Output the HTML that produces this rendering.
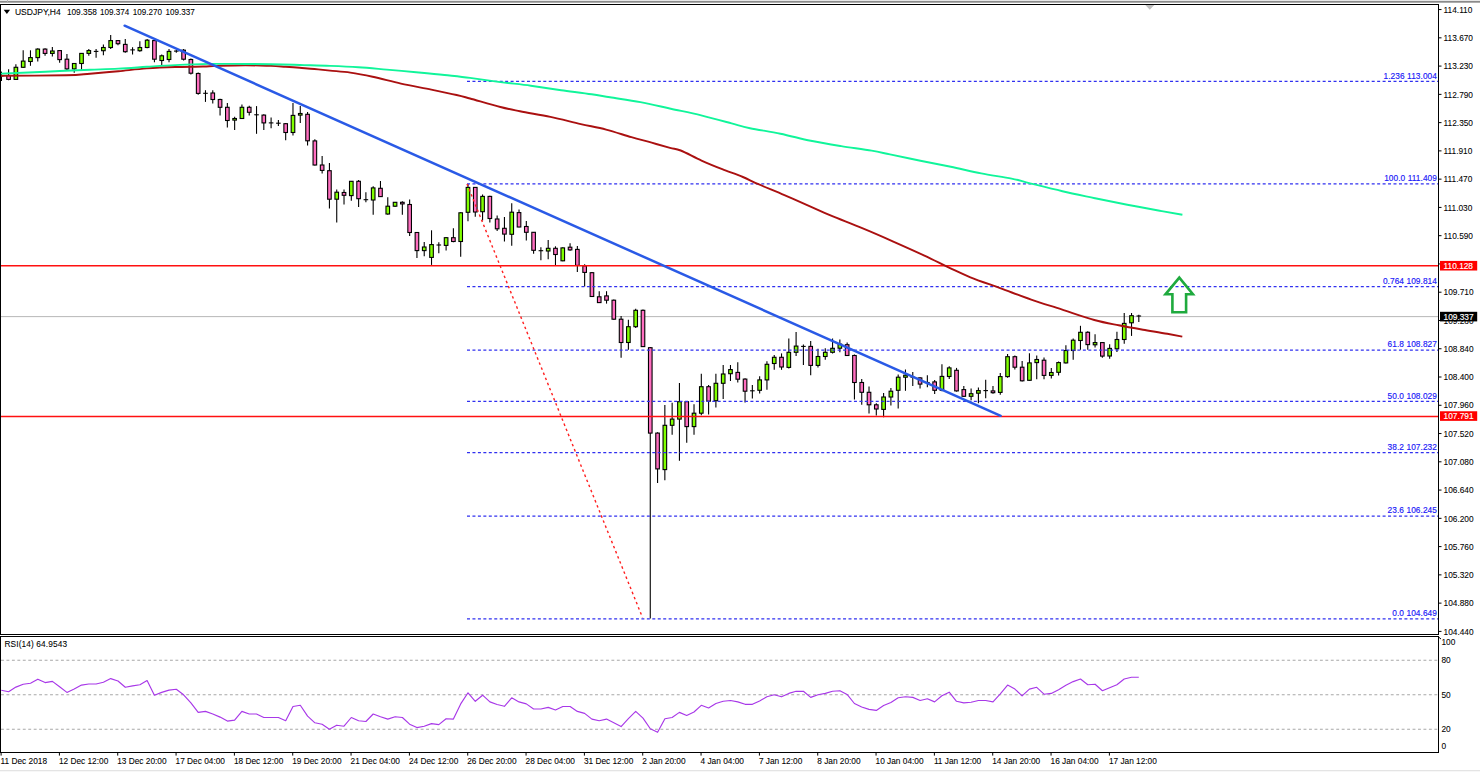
<!DOCTYPE html>
<html><head><meta charset="utf-8"><title>USDJPY H4</title>
<style>
html,body{margin:0;padding:0;background:#fff;width:1480px;height:772px;overflow:hidden}
svg{display:block}
text{font-family:"Liberation Sans", sans-serif;}
</style></head><body>
<svg width="1480" height="772" viewBox="0 0 1480 772">

<rect x="0" y="0" width="1480" height="1" fill="#e8e8e8"/>
<rect x="0" y="1" width="1480" height="1.7" fill="#8a8a8a"/>
<rect x="7" y="0" width="1" height="2" fill="#b0b0b0"/>
<defs><clipPath id="cm"><rect x="1" y="5" width="1437" height="629"/></clipPath><clipPath id="cr"><rect x="1" y="637" width="1437" height="115"/></clipPath></defs>
<g clip-path="url(#cm)">
<line x1="0" y1="316.61" x2="1438" y2="316.61" stroke="#b8b8b8" stroke-width="1"/>
<g>
<line x1="1.5" y1="71.6" x2="1.5" y2="81" stroke="#000" stroke-width="1"/>
<line x1="0" y1="76" x2="3.5" y2="76" stroke="#000" stroke-width="1"/>
<line x1="8.60" y1="69.3" x2="8.60" y2="80.2" stroke="#000" stroke-width="1.1"/>
<rect x="6.80" y="75.5" width="3.60" height="3.9" fill="#ff6ec0" stroke="#000" stroke-width="1.1"/>
<line x1="15.89" y1="64.2" x2="15.89" y2="79.8" stroke="#000" stroke-width="1.1"/>
<rect x="14.09" y="67.3" width="3.60" height="12.1" fill="#80ff00" stroke="#000" stroke-width="1.1"/>
<line x1="23.18" y1="50.3" x2="23.18" y2="68.1" stroke="#000" stroke-width="1.1"/>
<rect x="21.38" y="61.1" width="3.60" height="6.2" fill="#80ff00" stroke="#000" stroke-width="1.1"/>
<line x1="30.48" y1="50.3" x2="30.48" y2="65.8" stroke="#000" stroke-width="1.1"/>
<rect x="28.68" y="57.6" width="3.60" height="3.9" fill="#80ff00" stroke="#000" stroke-width="1.1"/>
<line x1="37.77" y1="48.3" x2="37.77" y2="61.5" stroke="#000" stroke-width="1.1"/>
<rect x="35.97" y="49.1" width="3.60" height="8.5" fill="#80ff00" stroke="#000" stroke-width="1.1"/>
<line x1="45.06" y1="48.3" x2="45.06" y2="55.7" stroke="#000" stroke-width="1.1"/>
<rect x="43.26" y="49.1" width="3.60" height="4.3" fill="#ff6ec0" stroke="#000" stroke-width="1.1"/>
<line x1="52.35" y1="47.1" x2="52.35" y2="56.5" stroke="#000" stroke-width="1.1"/>
<rect x="50.55" y="51.0" width="3.60" height="2.4" fill="#80ff00" stroke="#000" stroke-width="1.1"/>
<line x1="59.64" y1="50.3" x2="59.64" y2="62.7" stroke="#000" stroke-width="1.1"/>
<rect x="57.84" y="50.6" width="3.60" height="9.0" fill="#ff6ec0" stroke="#000" stroke-width="1.1"/>
<line x1="66.93" y1="54.1" x2="66.93" y2="70.8" stroke="#000" stroke-width="1.1"/>
<rect x="65.13" y="59.2" width="3.60" height="9.7" fill="#ff6ec0" stroke="#000" stroke-width="1.1"/>
<line x1="74.23" y1="63.1" x2="74.23" y2="72.8" stroke="#000" stroke-width="1.1"/>
<rect x="72.43" y="63.5" width="3.60" height="5.4" fill="#80ff00" stroke="#000" stroke-width="1.1"/>
<line x1="81.52" y1="53.4" x2="81.52" y2="70.5" stroke="#000" stroke-width="1.1"/>
<rect x="79.72" y="53.4" width="3.60" height="10.1" fill="#80ff00" stroke="#000" stroke-width="1.1"/>
<line x1="88.81" y1="49.1" x2="88.81" y2="55.7" stroke="#000" stroke-width="1.1"/>
<rect x="87.01" y="50.6" width="3.60" height="2.8" fill="#80ff00" stroke="#000" stroke-width="1.1"/>
<line x1="96.10" y1="49.1" x2="96.10" y2="57.7" stroke="#000" stroke-width="1.1"/>
<line x1="93.80" y1="51.4" x2="98.40" y2="51.4" stroke="#000" stroke-width="1.1"/>
<line x1="103.39" y1="44.4" x2="103.39" y2="55.3" stroke="#000" stroke-width="1.1"/>
<rect x="101.59" y="47.5" width="3.60" height="3.2" fill="#80ff00" stroke="#000" stroke-width="1.1"/>
<line x1="110.68" y1="35.1" x2="110.68" y2="49.1" stroke="#000" stroke-width="1.1"/>
<rect x="108.88" y="40.6" width="3.60" height="6.9" fill="#80ff00" stroke="#000" stroke-width="1.1"/>
<line x1="117.98" y1="40.1" x2="117.98" y2="45.2" stroke="#000" stroke-width="1.1"/>
<rect x="116.18" y="40.6" width="3.60" height="3.1" fill="#ff6ec0" stroke="#000" stroke-width="1.1"/>
<line x1="125.27" y1="39.0" x2="125.27" y2="52.7" stroke="#000" stroke-width="1.1"/>
<rect x="123.47" y="44.4" width="3.60" height="7.3" fill="#ff6ec0" stroke="#000" stroke-width="1.1"/>
<line x1="132.56" y1="47.2" x2="132.56" y2="54.5" stroke="#000" stroke-width="1.1"/>
<line x1="130.26" y1="49.9" x2="134.86" y2="49.9" stroke="#000" stroke-width="1.1"/>
<line x1="139.85" y1="41.3" x2="139.85" y2="51.7" stroke="#000" stroke-width="1.1"/>
<rect x="138.05" y="47.5" width="3.60" height="3.2" fill="#80ff00" stroke="#000" stroke-width="1.1"/>
<line x1="147.14" y1="39.0" x2="147.14" y2="48.3" stroke="#000" stroke-width="1.1"/>
<rect x="145.34" y="40.2" width="3.60" height="7.3" fill="#80ff00" stroke="#000" stroke-width="1.1"/>
<line x1="154.43" y1="39.8" x2="154.43" y2="62.3" stroke="#000" stroke-width="1.1"/>
<rect x="152.63" y="40.6" width="3.60" height="18.6" fill="#ff6ec0" stroke="#000" stroke-width="1.1"/>
<line x1="161.73" y1="54.5" x2="161.73" y2="65.7" stroke="#000" stroke-width="1.1"/>
<rect x="159.93" y="55.8" width="3.60" height="4.7" fill="#80ff00" stroke="#000" stroke-width="1.1"/>
<line x1="169.02" y1="49.1" x2="169.02" y2="62.3" stroke="#000" stroke-width="1.1"/>
<rect x="167.22" y="51.4" width="3.60" height="8.1" fill="#80ff00" stroke="#000" stroke-width="1.1"/>
<line x1="176.31" y1="49.9" x2="176.31" y2="52.7" stroke="#000" stroke-width="1.1"/>
<line x1="174.01" y1="51.1" x2="178.61" y2="51.1" stroke="#000" stroke-width="1.1"/>
<line x1="183.60" y1="49.1" x2="183.60" y2="60.5" stroke="#000" stroke-width="1.1"/>
<rect x="181.80" y="50.2" width="3.60" height="9.0" fill="#ff6ec0" stroke="#000" stroke-width="1.1"/>
<line x1="190.89" y1="58.4" x2="190.89" y2="74.5" stroke="#000" stroke-width="1.1"/>
<rect x="189.09" y="59.5" width="3.60" height="13.7" fill="#ff6ec0" stroke="#000" stroke-width="1.1"/>
<line x1="198.18" y1="72.4" x2="198.18" y2="94.7" stroke="#000" stroke-width="1.1"/>
<rect x="196.38" y="73.5" width="3.60" height="19.9" fill="#ff6ec0" stroke="#000" stroke-width="1.1"/>
<line x1="205.48" y1="90.2" x2="205.48" y2="101.9" stroke="#000" stroke-width="1.1"/>
<line x1="203.18" y1="93.3" x2="207.78" y2="93.3" stroke="#000" stroke-width="1.1"/>
<line x1="212.77" y1="90.2" x2="212.77" y2="103.4" stroke="#000" stroke-width="1.1"/>
<rect x="210.97" y="93.0" width="3.60" height="6.5" fill="#ff6ec0" stroke="#000" stroke-width="1.1"/>
<line x1="220.06" y1="98.8" x2="220.06" y2="115.6" stroke="#000" stroke-width="1.1"/>
<rect x="218.26" y="99.5" width="3.60" height="7.8" fill="#ff6ec0" stroke="#000" stroke-width="1.1"/>
<line x1="227.35" y1="103.0" x2="227.35" y2="127.5" stroke="#000" stroke-width="1.1"/>
<rect x="225.55" y="107.3" width="3.60" height="13.2" fill="#ff6ec0" stroke="#000" stroke-width="1.1"/>
<line x1="234.64" y1="116.7" x2="234.64" y2="129.9" stroke="#000" stroke-width="1.1"/>
<rect x="232.84" y="118.5" width="3.60" height="1.6" fill="#80ff00" stroke="#000" stroke-width="1.1"/>
<line x1="241.93" y1="104.5" x2="241.93" y2="119.0" stroke="#000" stroke-width="1.1"/>
<rect x="240.13" y="107.3" width="3.60" height="11.2" fill="#80ff00" stroke="#000" stroke-width="1.1"/>
<line x1="249.23" y1="105.8" x2="249.23" y2="115.4" stroke="#000" stroke-width="1.1"/>
<rect x="247.43" y="107.3" width="3.60" height="5.0" fill="#ff6ec0" stroke="#000" stroke-width="1.1"/>
<line x1="256.52" y1="106.1" x2="256.52" y2="133.8" stroke="#000" stroke-width="1.1"/>
<line x1="254.22" y1="114.8" x2="258.82" y2="114.8" stroke="#000" stroke-width="1.1"/>
<line x1="263.81" y1="114.3" x2="263.81" y2="129.9" stroke="#000" stroke-width="1.1"/>
<rect x="262.01" y="115.1" width="3.60" height="7.8" fill="#ff6ec0" stroke="#000" stroke-width="1.1"/>
<line x1="271.10" y1="117.4" x2="271.10" y2="128.3" stroke="#000" stroke-width="1.1"/>
<line x1="268.80" y1="122.9" x2="273.40" y2="122.9" stroke="#000" stroke-width="1.1"/>
<line x1="278.39" y1="120.1" x2="278.39" y2="126.0" stroke="#000" stroke-width="1.1"/>
<line x1="276.09" y1="123.2" x2="280.69" y2="123.2" stroke="#000" stroke-width="1.1"/>
<line x1="285.68" y1="122.9" x2="285.68" y2="140.3" stroke="#000" stroke-width="1.1"/>
<rect x="283.88" y="123.7" width="3.60" height="8.8" fill="#ff6ec0" stroke="#000" stroke-width="1.1"/>
<line x1="292.98" y1="103.0" x2="292.98" y2="135.6" stroke="#000" stroke-width="1.1"/>
<rect x="291.18" y="115.4" width="3.60" height="17.1" fill="#80ff00" stroke="#000" stroke-width="1.1"/>
<line x1="300.27" y1="106.1" x2="300.27" y2="122.9" stroke="#000" stroke-width="1.1"/>
<rect x="298.47" y="113.5" width="3.60" height="1.6" fill="#80ff00" stroke="#000" stroke-width="1.1"/>
<line x1="307.56" y1="112.0" x2="307.56" y2="145.4" stroke="#000" stroke-width="1.1"/>
<rect x="305.76" y="114.3" width="3.60" height="26.5" fill="#ff6ec0" stroke="#000" stroke-width="1.1"/>
<line x1="314.85" y1="139.3" x2="314.85" y2="165.5" stroke="#000" stroke-width="1.1"/>
<rect x="313.05" y="140.9" width="3.60" height="24.1" fill="#ff6ec0" stroke="#000" stroke-width="1.1"/>
<line x1="322.14" y1="156.1" x2="322.14" y2="173.5" stroke="#000" stroke-width="1.1"/>
<rect x="320.34" y="165.0" width="3.60" height="5.4" fill="#ff6ec0" stroke="#000" stroke-width="1.1"/>
<line x1="329.43" y1="163.0" x2="329.43" y2="208.5" stroke="#000" stroke-width="1.1"/>
<rect x="327.63" y="170.7" width="3.60" height="28.5" fill="#ff6ec0" stroke="#000" stroke-width="1.1"/>
<line x1="336.73" y1="189.4" x2="336.73" y2="222.5" stroke="#000" stroke-width="1.1"/>
<rect x="334.93" y="192.2" width="3.60" height="7.0" fill="#80ff00" stroke="#000" stroke-width="1.1"/>
<line x1="344.02" y1="189.4" x2="344.02" y2="204.6" stroke="#000" stroke-width="1.1"/>
<rect x="342.22" y="192.5" width="3.60" height="2.8" fill="#ff6ec0" stroke="#000" stroke-width="1.1"/>
<line x1="351.31" y1="181.0" x2="351.31" y2="200.8" stroke="#000" stroke-width="1.1"/>
<rect x="349.51" y="181.3" width="3.60" height="14.3" fill="#80ff00" stroke="#000" stroke-width="1.1"/>
<line x1="358.60" y1="180.1" x2="358.60" y2="207.0" stroke="#000" stroke-width="1.1"/>
<rect x="356.80" y="181.3" width="3.60" height="17.4" fill="#ff6ec0" stroke="#000" stroke-width="1.1"/>
<line x1="365.89" y1="192.2" x2="365.89" y2="202.3" stroke="#000" stroke-width="1.1"/>
<line x1="363.59" y1="199.7" x2="368.19" y2="199.7" stroke="#000" stroke-width="1.1"/>
<line x1="373.19" y1="186.3" x2="373.19" y2="214.8" stroke="#000" stroke-width="1.1"/>
<rect x="371.38" y="187.9" width="3.60" height="12.1" fill="#80ff00" stroke="#000" stroke-width="1.1"/>
<line x1="380.48" y1="181.0" x2="380.48" y2="196.9" stroke="#000" stroke-width="1.1"/>
<rect x="378.68" y="188.3" width="3.60" height="8.3" fill="#ff6ec0" stroke="#000" stroke-width="1.1"/>
<line x1="387.77" y1="197.2" x2="387.77" y2="214.8" stroke="#000" stroke-width="1.1"/>
<rect x="385.97" y="206.2" width="3.60" height="7.8" fill="#80ff00" stroke="#000" stroke-width="1.1"/>
<line x1="395.06" y1="201.9" x2="395.06" y2="207.0" stroke="#000" stroke-width="1.1"/>
<rect x="393.26" y="202.3" width="3.60" height="3.9" fill="#80ff00" stroke="#000" stroke-width="1.1"/>
<line x1="402.35" y1="201.2" x2="402.35" y2="214.8" stroke="#000" stroke-width="1.1"/>
<rect x="400.55" y="202.3" width="3.60" height="1.6" fill="#ff6ec0" stroke="#000" stroke-width="1.1"/>
<line x1="409.64" y1="199.5" x2="409.64" y2="236.1" stroke="#000" stroke-width="1.1"/>
<rect x="407.84" y="204.5" width="3.60" height="28.0" fill="#ff6ec0" stroke="#000" stroke-width="1.1"/>
<line x1="416.94" y1="232.2" x2="416.94" y2="257.9" stroke="#000" stroke-width="1.1"/>
<rect x="415.14" y="232.5" width="3.60" height="18.1" fill="#ff6ec0" stroke="#000" stroke-width="1.1"/>
<line x1="424.23" y1="241.9" x2="424.23" y2="256.3" stroke="#000" stroke-width="1.1"/>
<rect x="422.43" y="247.0" width="3.60" height="3.6" fill="#80ff00" stroke="#000" stroke-width="1.1"/>
<line x1="431.52" y1="230.3" x2="431.52" y2="264.9" stroke="#000" stroke-width="1.1"/>
<rect x="429.72" y="244.6" width="3.60" height="12.8" fill="#80ff00" stroke="#000" stroke-width="1.1"/>
<line x1="438.81" y1="242.3" x2="438.81" y2="253.2" stroke="#000" stroke-width="1.1"/>
<line x1="436.51" y1="245.0" x2="441.11" y2="245.0" stroke="#000" stroke-width="1.1"/>
<line x1="446.10" y1="236.9" x2="446.10" y2="250.6" stroke="#000" stroke-width="1.1"/>
<rect x="444.30" y="237.7" width="3.60" height="7.7" fill="#80ff00" stroke="#000" stroke-width="1.1"/>
<line x1="453.39" y1="228.3" x2="453.39" y2="242.3" stroke="#000" stroke-width="1.1"/>
<rect x="451.59" y="237.7" width="3.60" height="3.8" fill="#ff6ec0" stroke="#000" stroke-width="1.1"/>
<line x1="460.69" y1="212.3" x2="460.69" y2="256.8" stroke="#000" stroke-width="1.1"/>
<rect x="458.89" y="212.8" width="3.60" height="28.7" fill="#80ff00" stroke="#000" stroke-width="1.1"/>
<line x1="467.98" y1="184.0" x2="467.98" y2="221.3" stroke="#000" stroke-width="1.1"/>
<rect x="466.18" y="187.4" width="3.60" height="24.9" fill="#80ff00" stroke="#000" stroke-width="1.1"/>
<line x1="475.27" y1="187.1" x2="475.27" y2="216.7" stroke="#000" stroke-width="1.1"/>
<rect x="473.47" y="187.4" width="3.60" height="24.6" fill="#ff6ec0" stroke="#000" stroke-width="1.1"/>
<line x1="482.56" y1="194.6" x2="482.56" y2="220.5" stroke="#000" stroke-width="1.1"/>
<rect x="480.76" y="196.4" width="3.60" height="15.3" fill="#80ff00" stroke="#000" stroke-width="1.1"/>
<line x1="489.85" y1="195.7" x2="489.85" y2="222.6" stroke="#000" stroke-width="1.1"/>
<rect x="488.05" y="196.4" width="3.60" height="22.1" fill="#ff6ec0" stroke="#000" stroke-width="1.1"/>
<line x1="497.14" y1="215.4" x2="497.14" y2="231.0" stroke="#000" stroke-width="1.1"/>
<rect x="495.34" y="219.0" width="3.60" height="9.8" fill="#ff6ec0" stroke="#000" stroke-width="1.1"/>
<line x1="504.44" y1="217.0" x2="504.44" y2="241.5" stroke="#000" stroke-width="1.1"/>
<rect x="502.64" y="228.3" width="3.60" height="5.8" fill="#ff6ec0" stroke="#000" stroke-width="1.1"/>
<line x1="511.73" y1="203.2" x2="511.73" y2="245.7" stroke="#000" stroke-width="1.1"/>
<rect x="509.93" y="212.2" width="3.60" height="22.1" fill="#80ff00" stroke="#000" stroke-width="1.1"/>
<line x1="519.02" y1="209.4" x2="519.02" y2="227.3" stroke="#000" stroke-width="1.1"/>
<rect x="517.22" y="212.6" width="3.60" height="14.4" fill="#ff6ec0" stroke="#000" stroke-width="1.1"/>
<line x1="526.31" y1="221.1" x2="526.31" y2="240.5" stroke="#000" stroke-width="1.1"/>
<rect x="524.51" y="226.5" width="3.60" height="5.8" fill="#ff6ec0" stroke="#000" stroke-width="1.1"/>
<line x1="533.60" y1="232.0" x2="533.60" y2="253.8" stroke="#000" stroke-width="1.1"/>
<rect x="531.80" y="232.3" width="3.60" height="18.0" fill="#ff6ec0" stroke="#000" stroke-width="1.1"/>
<line x1="540.89" y1="247.2" x2="540.89" y2="260.3" stroke="#000" stroke-width="1.1"/>
<line x1="538.59" y1="250.7" x2="543.19" y2="250.7" stroke="#000" stroke-width="1.1"/>
<line x1="548.19" y1="240.1" x2="548.19" y2="259.2" stroke="#000" stroke-width="1.1"/>
<rect x="546.39" y="248.3" width="3.60" height="2.7" fill="#80ff00" stroke="#000" stroke-width="1.1"/>
<line x1="555.48" y1="246.3" x2="555.48" y2="265.4" stroke="#000" stroke-width="1.1"/>
<rect x="553.68" y="248.3" width="3.60" height="6.2" fill="#ff6ec0" stroke="#000" stroke-width="1.1"/>
<line x1="562.77" y1="247.2" x2="562.77" y2="261.2" stroke="#000" stroke-width="1.1"/>
<rect x="560.97" y="247.9" width="3.60" height="12.9" fill="#80ff00" stroke="#000" stroke-width="1.1"/>
<line x1="570.06" y1="243.2" x2="570.06" y2="250.7" stroke="#000" stroke-width="1.1"/>
<rect x="568.26" y="247.2" width="3.60" height="2.7" fill="#ff6ec0" stroke="#000" stroke-width="1.1"/>
<line x1="577.35" y1="246.0" x2="577.35" y2="272.1" stroke="#000" stroke-width="1.1"/>
<rect x="575.55" y="249.4" width="3.60" height="16.0" fill="#ff6ec0" stroke="#000" stroke-width="1.1"/>
<line x1="584.64" y1="264.3" x2="584.64" y2="286.4" stroke="#000" stroke-width="1.1"/>
<rect x="582.84" y="265.9" width="3.60" height="6.5" fill="#ff6ec0" stroke="#000" stroke-width="1.1"/>
<line x1="591.94" y1="272.1" x2="591.94" y2="297.0" stroke="#000" stroke-width="1.1"/>
<rect x="590.14" y="272.7" width="3.60" height="23.8" fill="#ff6ec0" stroke="#000" stroke-width="1.1"/>
<line x1="599.23" y1="291.2" x2="599.23" y2="303.0" stroke="#000" stroke-width="1.1"/>
<rect x="597.43" y="296.8" width="3.60" height="5.8" fill="#ff6ec0" stroke="#000" stroke-width="1.1"/>
<line x1="606.52" y1="291.2" x2="606.52" y2="303.6" stroke="#000" stroke-width="1.1"/>
<rect x="604.72" y="295.9" width="3.60" height="4.3" fill="#ff6ec0" stroke="#000" stroke-width="1.1"/>
<line x1="613.81" y1="299.4" x2="613.81" y2="319.7" stroke="#000" stroke-width="1.1"/>
<rect x="612.01" y="300.2" width="3.60" height="19.0" fill="#ff6ec0" stroke="#000" stroke-width="1.1"/>
<line x1="621.10" y1="316.1" x2="621.10" y2="357.8" stroke="#000" stroke-width="1.1"/>
<rect x="619.30" y="319.2" width="3.60" height="23.3" fill="#ff6ec0" stroke="#000" stroke-width="1.1"/>
<line x1="628.39" y1="319.7" x2="628.39" y2="349.7" stroke="#000" stroke-width="1.1"/>
<rect x="626.59" y="326.7" width="3.60" height="15.8" fill="#80ff00" stroke="#000" stroke-width="1.1"/>
<line x1="635.69" y1="308.8" x2="635.69" y2="327.9" stroke="#000" stroke-width="1.1"/>
<rect x="633.89" y="310.3" width="3.60" height="16.4" fill="#80ff00" stroke="#000" stroke-width="1.1"/>
<line x1="642.98" y1="309.5" x2="642.98" y2="346.9" stroke="#000" stroke-width="1.1"/>
<rect x="641.18" y="310.3" width="3.60" height="36.3" fill="#ff6ec0" stroke="#000" stroke-width="1.1"/>
<line x1="650.27" y1="346.9" x2="650.27" y2="618.5" stroke="#000" stroke-width="1.1"/>
<rect x="648.47" y="347.7" width="3.60" height="85.4" fill="#ff6ec0" stroke="#000" stroke-width="1.1"/>
<line x1="657.56" y1="432.3" x2="657.56" y2="483.1" stroke="#000" stroke-width="1.1"/>
<rect x="655.76" y="433.1" width="3.60" height="35.8" fill="#ff6ec0" stroke="#000" stroke-width="1.1"/>
<line x1="664.85" y1="405.1" x2="664.85" y2="480.3" stroke="#000" stroke-width="1.1"/>
<rect x="663.05" y="425.3" width="3.60" height="44.3" fill="#80ff00" stroke="#000" stroke-width="1.1"/>
<line x1="672.14" y1="402.8" x2="672.14" y2="434.7" stroke="#000" stroke-width="1.1"/>
<rect x="670.34" y="419.1" width="3.60" height="6.2" fill="#80ff00" stroke="#000" stroke-width="1.1"/>
<line x1="679.44" y1="383.0" x2="679.44" y2="460.8" stroke="#000" stroke-width="1.1"/>
<rect x="677.64" y="401.7" width="3.60" height="17.4" fill="#80ff00" stroke="#000" stroke-width="1.1"/>
<line x1="686.73" y1="401.2" x2="686.73" y2="442.7" stroke="#000" stroke-width="1.1"/>
<rect x="684.93" y="401.7" width="3.60" height="24.9" fill="#ff6ec0" stroke="#000" stroke-width="1.1"/>
<line x1="694.02" y1="404.3" x2="694.02" y2="434.7" stroke="#000" stroke-width="1.1"/>
<rect x="692.22" y="413.2" width="3.60" height="13.4" fill="#80ff00" stroke="#000" stroke-width="1.1"/>
<line x1="701.31" y1="373.7" x2="701.31" y2="415.2" stroke="#000" stroke-width="1.1"/>
<rect x="699.51" y="386.7" width="3.60" height="26.5" fill="#80ff00" stroke="#000" stroke-width="1.1"/>
<line x1="708.60" y1="384.9" x2="708.60" y2="414.4" stroke="#000" stroke-width="1.1"/>
<rect x="706.80" y="386.7" width="3.60" height="14.5" fill="#ff6ec0" stroke="#000" stroke-width="1.1"/>
<line x1="715.89" y1="373.7" x2="715.89" y2="407.4" stroke="#000" stroke-width="1.1"/>
<rect x="714.09" y="383.3" width="3.60" height="17.4" fill="#80ff00" stroke="#000" stroke-width="1.1"/>
<line x1="723.19" y1="365.0" x2="723.19" y2="398.9" stroke="#000" stroke-width="1.1"/>
<rect x="721.39" y="374.0" width="3.60" height="9.3" fill="#80ff00" stroke="#000" stroke-width="1.1"/>
<line x1="730.48" y1="365.0" x2="730.48" y2="381.0" stroke="#000" stroke-width="1.1"/>
<rect x="728.68" y="369.6" width="3.60" height="4.1" fill="#80ff00" stroke="#000" stroke-width="1.1"/>
<line x1="737.77" y1="362.3" x2="737.77" y2="382.5" stroke="#000" stroke-width="1.1"/>
<rect x="735.97" y="372.4" width="3.60" height="6.8" fill="#ff6ec0" stroke="#000" stroke-width="1.1"/>
<line x1="745.06" y1="378.3" x2="745.06" y2="402.4" stroke="#000" stroke-width="1.1"/>
<rect x="743.26" y="379.1" width="3.60" height="12.1" fill="#ff6ec0" stroke="#000" stroke-width="1.1"/>
<line x1="752.35" y1="385.0" x2="752.35" y2="398.5" stroke="#000" stroke-width="1.1"/>
<line x1="750.05" y1="390.8" x2="754.65" y2="390.8" stroke="#000" stroke-width="1.1"/>
<line x1="759.65" y1="376.3" x2="759.65" y2="393.4" stroke="#000" stroke-width="1.1"/>
<rect x="757.85" y="379.9" width="3.60" height="10.4" fill="#80ff00" stroke="#000" stroke-width="1.1"/>
<line x1="766.94" y1="361.2" x2="766.94" y2="389.7" stroke="#000" stroke-width="1.1"/>
<rect x="765.14" y="364.3" width="3.60" height="15.6" fill="#80ff00" stroke="#000" stroke-width="1.1"/>
<line x1="774.23" y1="355.0" x2="774.23" y2="369.8" stroke="#000" stroke-width="1.1"/>
<rect x="772.43" y="357.3" width="3.60" height="6.2" fill="#80ff00" stroke="#000" stroke-width="1.1"/>
<line x1="781.52" y1="353.4" x2="781.52" y2="369.8" stroke="#000" stroke-width="1.1"/>
<rect x="779.72" y="357.3" width="3.60" height="9.7" fill="#ff6ec0" stroke="#000" stroke-width="1.1"/>
<line x1="788.81" y1="338.4" x2="788.81" y2="368.5" stroke="#000" stroke-width="1.1"/>
<rect x="787.01" y="352.3" width="3.60" height="15.1" fill="#80ff00" stroke="#000" stroke-width="1.1"/>
<line x1="796.10" y1="332.1" x2="796.10" y2="356.1" stroke="#000" stroke-width="1.1"/>
<rect x="794.30" y="346.1" width="3.60" height="6.2" fill="#80ff00" stroke="#000" stroke-width="1.1"/>
<line x1="803.40" y1="344.6" x2="803.40" y2="365.1" stroke="#000" stroke-width="1.1"/>
<line x1="801.10" y1="346.4" x2="805.70" y2="346.4" stroke="#000" stroke-width="1.1"/>
<line x1="810.69" y1="341.0" x2="810.69" y2="375.2" stroke="#000" stroke-width="1.1"/>
<rect x="808.89" y="346.4" width="3.60" height="19.0" fill="#ff6ec0" stroke="#000" stroke-width="1.1"/>
<line x1="817.98" y1="348.8" x2="817.98" y2="367.4" stroke="#000" stroke-width="1.1"/>
<rect x="816.18" y="356.5" width="3.60" height="8.9" fill="#80ff00" stroke="#000" stroke-width="1.1"/>
<line x1="825.27" y1="348.3" x2="825.27" y2="359.7" stroke="#000" stroke-width="1.1"/>
<rect x="823.47" y="352.3" width="3.60" height="4.2" fill="#80ff00" stroke="#000" stroke-width="1.1"/>
<line x1="832.56" y1="338.4" x2="832.56" y2="353.4" stroke="#000" stroke-width="1.1"/>
<rect x="830.76" y="348.3" width="3.60" height="4.0" fill="#80ff00" stroke="#000" stroke-width="1.1"/>
<line x1="839.85" y1="339.4" x2="839.85" y2="352.3" stroke="#000" stroke-width="1.1"/>
<rect x="838.05" y="344.1" width="3.60" height="4.1" fill="#80ff00" stroke="#000" stroke-width="1.1"/>
<line x1="847.15" y1="342.6" x2="847.15" y2="356.1" stroke="#000" stroke-width="1.1"/>
<rect x="845.35" y="344.7" width="3.60" height="10.8" fill="#ff6ec0" stroke="#000" stroke-width="1.1"/>
<line x1="854.44" y1="354.5" x2="854.44" y2="399.6" stroke="#000" stroke-width="1.1"/>
<rect x="852.64" y="355.5" width="3.60" height="27.0" fill="#ff6ec0" stroke="#000" stroke-width="1.1"/>
<line x1="861.73" y1="379.1" x2="861.73" y2="404.8" stroke="#000" stroke-width="1.1"/>
<rect x="859.93" y="382.5" width="3.60" height="9.8" fill="#ff6ec0" stroke="#000" stroke-width="1.1"/>
<line x1="869.02" y1="386.6" x2="869.02" y2="413.6" stroke="#000" stroke-width="1.1"/>
<rect x="867.22" y="392.3" width="3.60" height="12.5" fill="#ff6ec0" stroke="#000" stroke-width="1.1"/>
<line x1="876.31" y1="403.2" x2="876.31" y2="415.6" stroke="#000" stroke-width="1.1"/>
<rect x="874.51" y="404.8" width="3.60" height="4.2" fill="#ff6ec0" stroke="#000" stroke-width="1.1"/>
<line x1="883.60" y1="393.1" x2="883.60" y2="417.2" stroke="#000" stroke-width="1.1"/>
<rect x="881.80" y="397.0" width="3.60" height="12.4" fill="#80ff00" stroke="#000" stroke-width="1.1"/>
<line x1="890.90" y1="388.1" x2="890.90" y2="405.5" stroke="#000" stroke-width="1.1"/>
<rect x="889.10" y="391.2" width="3.60" height="5.8" fill="#80ff00" stroke="#000" stroke-width="1.1"/>
<line x1="898.19" y1="374.4" x2="898.19" y2="408.6" stroke="#000" stroke-width="1.1"/>
<rect x="896.39" y="377.2" width="3.60" height="13.1" fill="#80ff00" stroke="#000" stroke-width="1.1"/>
<line x1="905.48" y1="369.5" x2="905.48" y2="390.8" stroke="#000" stroke-width="1.1"/>
<rect x="903.68" y="375.2" width="3.60" height="2.0" fill="#80ff00" stroke="#000" stroke-width="1.1"/>
<line x1="912.77" y1="372.1" x2="912.77" y2="386.1" stroke="#000" stroke-width="1.1"/>
<line x1="910.47" y1="377.2" x2="915.07" y2="377.2" stroke="#000" stroke-width="1.1"/>
<line x1="920.06" y1="377.2" x2="920.06" y2="388.4" stroke="#000" stroke-width="1.1"/>
<rect x="918.26" y="377.9" width="3.60" height="6.2" fill="#ff6ec0" stroke="#000" stroke-width="1.1"/>
<line x1="927.35" y1="375.2" x2="927.35" y2="387.2" stroke="#000" stroke-width="1.1"/>
<line x1="925.05" y1="382.5" x2="929.65" y2="382.5" stroke="#000" stroke-width="1.1"/>
<line x1="934.65" y1="379.9" x2="934.65" y2="393.9" stroke="#000" stroke-width="1.1"/>
<rect x="932.85" y="381.9" width="3.60" height="8.4" fill="#ff6ec0" stroke="#000" stroke-width="1.1"/>
<line x1="941.94" y1="364.2" x2="941.94" y2="391.2" stroke="#000" stroke-width="1.1"/>
<rect x="940.14" y="376.4" width="3.60" height="13.9" fill="#80ff00" stroke="#000" stroke-width="1.1"/>
<line x1="949.23" y1="366.3" x2="949.23" y2="379.0" stroke="#000" stroke-width="1.1"/>
<rect x="947.43" y="367.9" width="3.60" height="8.6" fill="#80ff00" stroke="#000" stroke-width="1.1"/>
<line x1="956.52" y1="367.9" x2="956.52" y2="391.6" stroke="#000" stroke-width="1.1"/>
<rect x="954.72" y="370.3" width="3.60" height="20.6" fill="#ff6ec0" stroke="#000" stroke-width="1.1"/>
<line x1="963.81" y1="385.9" x2="963.81" y2="397.1" stroke="#000" stroke-width="1.1"/>
<rect x="962.01" y="389.6" width="3.60" height="6.7" fill="#ff6ec0" stroke="#000" stroke-width="1.1"/>
<line x1="971.10" y1="388.5" x2="971.10" y2="400.2" stroke="#000" stroke-width="1.1"/>
<rect x="969.30" y="393.7" width="3.60" height="2.6" fill="#80ff00" stroke="#000" stroke-width="1.1"/>
<line x1="978.40" y1="387.4" x2="978.40" y2="403.3" stroke="#000" stroke-width="1.1"/>
<rect x="976.60" y="390.6" width="3.60" height="2.6" fill="#80ff00" stroke="#000" stroke-width="1.1"/>
<line x1="985.69" y1="379.7" x2="985.69" y2="398.3" stroke="#000" stroke-width="1.1"/>
<line x1="983.39" y1="390.6" x2="987.99" y2="390.6" stroke="#000" stroke-width="1.1"/>
<line x1="992.98" y1="385.9" x2="992.98" y2="393.7" stroke="#000" stroke-width="1.1"/>
<rect x="991.18" y="390.9" width="3.60" height="1.8" fill="#ff6ec0" stroke="#000" stroke-width="1.1"/>
<line x1="1000.27" y1="373.0" x2="1000.27" y2="394.8" stroke="#000" stroke-width="1.1"/>
<rect x="998.47" y="376.6" width="3.60" height="15.8" fill="#80ff00" stroke="#000" stroke-width="1.1"/>
<line x1="1007.56" y1="353.9" x2="1007.56" y2="377.7" stroke="#000" stroke-width="1.1"/>
<rect x="1005.76" y="356.7" width="3.60" height="19.9" fill="#80ff00" stroke="#000" stroke-width="1.1"/>
<line x1="1014.85" y1="355.4" x2="1014.85" y2="369.4" stroke="#000" stroke-width="1.1"/>
<rect x="1013.05" y="356.7" width="3.60" height="10.5" fill="#ff6ec0" stroke="#000" stroke-width="1.1"/>
<line x1="1022.15" y1="361.0" x2="1022.15" y2="381.5" stroke="#000" stroke-width="1.1"/>
<rect x="1020.35" y="367.2" width="3.60" height="13.6" fill="#ff6ec0" stroke="#000" stroke-width="1.1"/>
<line x1="1029.44" y1="353.2" x2="1029.44" y2="380.8" stroke="#000" stroke-width="1.1"/>
<rect x="1027.64" y="362.9" width="3.60" height="17.4" fill="#80ff00" stroke="#000" stroke-width="1.1"/>
<line x1="1036.73" y1="355.4" x2="1036.73" y2="379.2" stroke="#000" stroke-width="1.1"/>
<rect x="1034.93" y="359.5" width="3.60" height="3.1" fill="#80ff00" stroke="#000" stroke-width="1.1"/>
<line x1="1044.02" y1="357.5" x2="1044.02" y2="379.3" stroke="#000" stroke-width="1.1"/>
<rect x="1042.22" y="360.2" width="3.60" height="15.2" fill="#ff6ec0" stroke="#000" stroke-width="1.1"/>
<line x1="1051.31" y1="367.9" x2="1051.31" y2="378.5" stroke="#000" stroke-width="1.1"/>
<rect x="1049.51" y="372.5" width="3.60" height="2.9" fill="#80ff00" stroke="#000" stroke-width="1.1"/>
<line x1="1058.60" y1="361.6" x2="1058.60" y2="375.5" stroke="#000" stroke-width="1.1"/>
<rect x="1056.80" y="362.6" width="3.60" height="9.7" fill="#80ff00" stroke="#000" stroke-width="1.1"/>
<line x1="1065.90" y1="345.3" x2="1065.90" y2="363.5" stroke="#000" stroke-width="1.1"/>
<rect x="1064.10" y="350.5" width="3.60" height="12.4" fill="#80ff00" stroke="#000" stroke-width="1.1"/>
<line x1="1073.19" y1="338.5" x2="1073.19" y2="359.7" stroke="#000" stroke-width="1.1"/>
<rect x="1071.39" y="340.2" width="3.60" height="10.3" fill="#80ff00" stroke="#000" stroke-width="1.1"/>
<line x1="1080.48" y1="325.8" x2="1080.48" y2="349.8" stroke="#000" stroke-width="1.1"/>
<rect x="1078.68" y="332.3" width="3.60" height="8.2" fill="#80ff00" stroke="#000" stroke-width="1.1"/>
<line x1="1087.77" y1="331.2" x2="1087.77" y2="349.8" stroke="#000" stroke-width="1.1"/>
<rect x="1085.97" y="332.3" width="3.60" height="12.3" fill="#ff6ec0" stroke="#000" stroke-width="1.1"/>
<line x1="1095.06" y1="334.2" x2="1095.06" y2="347.5" stroke="#000" stroke-width="1.1"/>
<rect x="1093.26" y="342.6" width="3.60" height="2.2" fill="#80ff00" stroke="#000" stroke-width="1.1"/>
<line x1="1102.35" y1="342.2" x2="1102.35" y2="357.8" stroke="#000" stroke-width="1.1"/>
<rect x="1100.55" y="342.6" width="3.60" height="13.5" fill="#ff6ec0" stroke="#000" stroke-width="1.1"/>
<line x1="1109.65" y1="344.3" x2="1109.65" y2="358.8" stroke="#000" stroke-width="1.1"/>
<rect x="1107.85" y="348.4" width="3.60" height="7.6" fill="#80ff00" stroke="#000" stroke-width="1.1"/>
<line x1="1116.94" y1="331.7" x2="1116.94" y2="352.0" stroke="#000" stroke-width="1.1"/>
<rect x="1115.14" y="339.5" width="3.60" height="9.3" fill="#80ff00" stroke="#000" stroke-width="1.1"/>
<line x1="1124.23" y1="313.0" x2="1124.23" y2="343.7" stroke="#000" stroke-width="1.1"/>
<rect x="1122.43" y="323.4" width="3.60" height="16.1" fill="#80ff00" stroke="#000" stroke-width="1.1"/>
<line x1="1131.52" y1="313.0" x2="1131.52" y2="335.9" stroke="#000" stroke-width="1.1"/>
<rect x="1129.72" y="315.7" width="3.60" height="7.1" fill="#80ff00" stroke="#000" stroke-width="1.1"/>
<line x1="1138.81" y1="314.7" x2="1138.81" y2="321.9" stroke="#000" stroke-width="1.1"/>
<line x1="1136.51" y1="316.0" x2="1141.11" y2="316.0" stroke="#000" stroke-width="1.1"/>
</g>
<line x1="467" y1="81.31" x2="1438" y2="81.31" stroke="#3030f0" stroke-width="1.25" stroke-dasharray="3 2.45"/>
<line x1="467" y1="183.92" x2="1438" y2="183.92" stroke="#3030f0" stroke-width="1.25" stroke-dasharray="3 2.45"/>
<line x1="467" y1="286.52" x2="1438" y2="286.52" stroke="#3030f0" stroke-width="1.25" stroke-dasharray="3 2.45"/>
<line x1="467" y1="350.02" x2="1438" y2="350.02" stroke="#3030f0" stroke-width="1.25" stroke-dasharray="3 2.45"/>
<line x1="467" y1="401.35" x2="1438" y2="401.35" stroke="#3030f0" stroke-width="1.25" stroke-dasharray="3 2.45"/>
<line x1="467" y1="452.62" x2="1438" y2="452.62" stroke="#3030f0" stroke-width="1.25" stroke-dasharray="3 2.45"/>
<line x1="467" y1="516.12" x2="1438" y2="516.12" stroke="#3030f0" stroke-width="1.25" stroke-dasharray="3 2.45"/>
<line x1="467" y1="618.79" x2="1438" y2="618.79" stroke="#3030f0" stroke-width="1.25" stroke-dasharray="3 2.45"/>
<line x1="0" y1="265.72" x2="1438" y2="265.72" stroke="#ff1010" stroke-width="1.6"/>
<line x1="0" y1="416.46" x2="1438" y2="416.46" stroke="#ff1010" stroke-width="1.6"/>
<line x1="467" y1="184" x2="642.5" y2="617.5" stroke="#ff2020" stroke-width="1.4" stroke-dasharray="2.5 3"/>
<path d="M0.0,75.8 C11.0,75.7 51.0,75.6 66.0,75.3 C81.0,75.0 81.3,74.4 90.0,73.7 C98.7,73.0 108.9,72.1 118.4,71.2 C127.9,70.3 137.3,69.1 146.8,68.4 C156.3,67.7 165.9,67.3 175.2,67.0 C184.5,66.7 195.9,66.7 202.8,66.5 C209.7,66.3 209.5,66.1 216.6,65.9 C223.7,65.7 236.3,65.3 245.4,65.3 C254.5,65.3 264.3,65.7 271.0,65.9 C277.7,66.2 280.8,66.5 285.6,66.8 C290.4,67.1 295.0,67.4 299.8,67.8 C304.6,68.2 309.5,68.5 314.5,69.0 C319.5,69.5 324.0,70.0 330.0,70.6 C336.0,71.2 343.2,71.6 350.3,72.6 C357.4,73.6 364.2,74.9 372.6,76.7 C381.0,78.5 391.1,81.4 400.9,83.6 C410.7,85.8 422.0,87.7 431.3,89.6 C440.6,91.5 450.2,93.5 456.6,95.0 C463.1,96.5 462.7,96.5 470.0,98.5 C477.3,100.5 492.1,104.9 500.4,107.0 C508.7,109.1 511.7,109.6 520.0,111.3 C528.3,113.0 540.3,114.8 550.4,116.9 C560.5,119.0 571.5,122.0 580.8,124.1 C590.1,126.2 597.7,127.4 606.1,129.6 C614.5,131.8 623.8,135.0 631.4,137.2 C639.0,139.4 645.3,140.9 651.7,142.7 C658.1,144.5 665.2,146.5 670.0,147.8 C674.8,149.1 675.5,148.4 680.7,150.5 C686.0,152.6 694.6,157.5 701.5,160.6 C708.4,163.7 715.3,166.5 722.2,169.2 C729.1,171.9 736.9,174.5 742.9,177.0 C748.9,179.5 751.5,181.2 758.4,184.2 C765.3,187.2 775.8,191.4 784.4,195.1 C793.0,198.8 802.2,202.9 810.0,206.3 C817.8,209.7 822.4,212.0 831.1,215.7 C839.8,219.3 851.8,223.9 862.2,228.2 C872.6,232.5 882.9,237.0 893.3,241.6 C903.7,246.2 914.9,251.2 924.4,255.6 C933.9,260.0 942.3,264.5 950.0,268.1 C957.7,271.7 961.9,273.9 970.4,277.3 C978.9,280.7 990.7,284.7 1000.8,288.4 C1010.9,292.1 1021.1,296.1 1031.2,299.6 C1041.3,303.1 1051.1,306.0 1061.6,309.4 C1072.1,312.8 1084.8,317.4 1094.3,320.0 C1103.8,322.6 1110.6,323.7 1118.7,325.3 C1126.8,326.9 1134.9,328.3 1143.0,329.7 C1151.1,331.1 1160.8,332.6 1167.3,333.8 C1173.8,335.0 1179.8,336.1 1182.3,336.6" fill="none" stroke="#aa1010" stroke-width="1.9" stroke-linejoin="round"/>
<path d="M0.0,73.7 C7.6,73.4 30.6,72.4 45.6,71.7 C60.6,71.0 77.9,70.3 90.0,69.8 C102.1,69.3 108.9,69.1 118.4,68.6 C127.9,68.1 137.3,67.4 146.8,66.8 C156.3,66.2 164.7,65.6 175.2,65.1 C185.7,64.6 198.4,64.1 210.0,63.9 C221.6,63.7 234.8,64.0 245.0,64.0 C255.2,64.0 261.8,64.0 271.0,64.2 C280.2,64.4 290.2,64.7 300.0,65.0 C309.8,65.3 320.3,65.5 330.0,65.9 C339.7,66.3 348.9,66.7 358.4,67.3 C367.8,67.9 377.1,68.8 386.7,69.6 C396.3,70.4 406.5,71.3 416.1,72.2 C425.7,73.1 435.5,74.0 444.5,75.0 C453.5,76.0 460.7,76.7 470.0,77.9 C479.3,79.1 490.3,80.8 500.4,82.1 C510.5,83.4 520.7,84.3 530.8,85.7 C540.9,87.1 551.1,88.8 561.2,90.2 C571.3,91.6 583.5,93.1 591.6,94.3 C599.7,95.5 601.9,96.0 610.0,97.3 C618.1,98.6 630.3,100.2 640.4,102.1 C650.5,104.0 660.7,106.5 670.8,108.7 C680.9,110.9 691.1,112.8 701.2,115.3 C711.3,117.8 723.5,121.2 731.6,123.4 C739.7,125.6 741.9,126.5 750.0,128.2 C758.1,129.9 770.3,131.6 780.4,133.7 C790.5,135.8 800.7,138.7 810.8,140.8 C820.9,142.9 831.1,144.5 841.2,146.1 C851.3,147.7 863.5,149.2 871.6,150.6 C879.7,152.0 881.9,152.7 890.0,154.4 C898.1,156.1 910.3,158.6 920.4,160.7 C930.5,162.8 940.7,164.7 950.8,166.8 C960.9,168.9 971.1,171.4 981.2,173.4 C991.3,175.4 1003.5,176.9 1011.6,178.6 C1019.7,180.2 1021.5,181.2 1030.0,183.3 C1038.5,185.4 1051.6,188.7 1062.4,191.2 C1073.2,193.7 1084.1,195.9 1094.9,198.2 C1105.7,200.4 1116.5,202.6 1127.3,204.7 C1138.1,206.8 1150.5,209.0 1159.7,210.7 C1168.9,212.4 1178.6,214.1 1182.4,214.8" fill="none" stroke="#10f59a" stroke-width="1.9" stroke-linejoin="round"/>
<line x1="124.6" y1="25.7" x2="1000.7" y2="415.8" stroke="#2a5ae6" stroke-width="2.5" stroke-linecap="round"/>
<polygon points="1179.3,277.6 1192.9,294.3 1186.1,294.3 1186.1,312.2 1172.4,312.2 1172.4,294.3 1165.5,294.3" fill="none" stroke="#1faa3e" stroke-width="2.6" stroke-linejoin="miter"/>
<polygon points="1145.3,5 1154.3,5 1149.8,9.7" fill="#c0c0c0"/>
<text x="1437" y="78.51" font-size="8.3" fill="#1818f8" stroke="#1818f8" stroke-width="0.15" text-anchor="end" letter-spacing="0.08">1.236 113.004</text>
<text x="1437" y="181.12" font-size="8.3" fill="#1818f8" stroke="#1818f8" stroke-width="0.15" text-anchor="end" letter-spacing="0.08">100.0 111.409</text>
<text x="1437" y="283.72" font-size="8.3" fill="#1818f8" stroke="#1818f8" stroke-width="0.15" text-anchor="end" letter-spacing="0.08">0.764 109.814</text>
<text x="1437" y="347.22" font-size="8.3" fill="#1818f8" stroke="#1818f8" stroke-width="0.15" text-anchor="end" letter-spacing="0.08">61.8 108.827</text>
<text x="1437" y="398.55" font-size="8.3" fill="#1818f8" stroke="#1818f8" stroke-width="0.15" text-anchor="end" letter-spacing="0.08">50.0 108.029</text>
<text x="1437" y="449.82" font-size="8.3" fill="#1818f8" stroke="#1818f8" stroke-width="0.15" text-anchor="end" letter-spacing="0.08">38.2 107.232</text>
<text x="1437" y="513.32" font-size="8.3" fill="#1818f8" stroke="#1818f8" stroke-width="0.15" text-anchor="end" letter-spacing="0.08">23.6 106.245</text>
<text x="1437" y="615.99" font-size="8.3" fill="#1818f8" stroke="#1818f8" stroke-width="0.15" text-anchor="end" letter-spacing="0.08">0.0 104.649</text>
</g>
<polygon points="3.7,9.8 10.1,9.8 6.9,13.9" fill="#000"/>
<text x="14.9" y="14.5" font-size="8.3" fill="#000" stroke="#000" stroke-width="0.08" textLength="45.9" lengthAdjust="spacingAndGlyphs">USDJPY,H4</text>
<text x="66.9" y="14.5" font-size="8.3" fill="#000" stroke="#000" stroke-width="0.08" textLength="30.0" lengthAdjust="spacingAndGlyphs">109.358</text>
<text x="100.0" y="14.5" font-size="8.3" fill="#000" stroke="#000" stroke-width="0.08" textLength="29.2" lengthAdjust="spacingAndGlyphs">109.374</text>
<text x="132.7" y="14.5" font-size="8.3" fill="#000" stroke="#000" stroke-width="0.08" textLength="29.2" lengthAdjust="spacingAndGlyphs">109.270</text>
<text x="165.5" y="14.5" font-size="8.3" fill="#000" stroke="#000" stroke-width="0.08" textLength="29.2" lengthAdjust="spacingAndGlyphs">109.337</text>
<rect x="0.5" y="4.5" width="1438" height="630" fill="none" stroke="#000" stroke-width="1"/>
<line x1="1438.5" y1="9.56" x2="1441.5" y2="9.56" stroke="#000" stroke-width="1"/>
<text x="1443.6" y="12.76" font-size="8.3" fill="#000" stroke="#000" stroke-width="0.08">114.110</text>
<line x1="1438.5" y1="37.83" x2="1441.5" y2="37.83" stroke="#000" stroke-width="1"/>
<text x="1443.6" y="41.03" font-size="8.3" fill="#000" stroke="#000" stroke-width="0.08">113.670</text>
<line x1="1438.5" y1="66.09" x2="1441.5" y2="66.09" stroke="#000" stroke-width="1"/>
<text x="1443.6" y="69.29" font-size="8.3" fill="#000" stroke="#000" stroke-width="0.08">113.230</text>
<line x1="1438.5" y1="94.36" x2="1441.5" y2="94.36" stroke="#000" stroke-width="1"/>
<text x="1443.6" y="97.56" font-size="8.3" fill="#000" stroke="#000" stroke-width="0.08">112.790</text>
<line x1="1438.5" y1="122.62" x2="1441.5" y2="122.62" stroke="#000" stroke-width="1"/>
<text x="1443.6" y="125.82" font-size="8.3" fill="#000" stroke="#000" stroke-width="0.08">112.350</text>
<line x1="1438.5" y1="150.89" x2="1441.5" y2="150.89" stroke="#000" stroke-width="1"/>
<text x="1443.6" y="154.09" font-size="8.3" fill="#000" stroke="#000" stroke-width="0.08">111.910</text>
<line x1="1438.5" y1="179.15" x2="1441.5" y2="179.15" stroke="#000" stroke-width="1"/>
<text x="1443.6" y="182.35" font-size="8.3" fill="#000" stroke="#000" stroke-width="0.08">111.470</text>
<line x1="1438.5" y1="207.42" x2="1441.5" y2="207.42" stroke="#000" stroke-width="1"/>
<text x="1443.6" y="210.62" font-size="8.3" fill="#000" stroke="#000" stroke-width="0.08">111.030</text>
<line x1="1438.5" y1="235.68" x2="1441.5" y2="235.68" stroke="#000" stroke-width="1"/>
<text x="1443.6" y="238.88" font-size="8.3" fill="#000" stroke="#000" stroke-width="0.08">110.590</text>
<line x1="1438.5" y1="263.95" x2="1441.5" y2="263.95" stroke="#000" stroke-width="1"/>
<text x="1443.6" y="267.15" font-size="8.3" fill="#000" stroke="#000" stroke-width="0.08">110.150</text>
<line x1="1438.5" y1="292.21" x2="1441.5" y2="292.21" stroke="#000" stroke-width="1"/>
<text x="1443.6" y="295.41" font-size="8.3" fill="#000" stroke="#000" stroke-width="0.08">109.710</text>
<line x1="1438.5" y1="320.48" x2="1441.5" y2="320.48" stroke="#000" stroke-width="1"/>
<text x="1443.6" y="323.68" font-size="8.3" fill="#000" stroke="#000" stroke-width="0.08">109.280</text>
<line x1="1438.5" y1="348.75" x2="1441.5" y2="348.75" stroke="#000" stroke-width="1"/>
<text x="1443.6" y="351.95" font-size="8.3" fill="#000" stroke="#000" stroke-width="0.08">108.840</text>
<line x1="1438.5" y1="377.01" x2="1441.5" y2="377.01" stroke="#000" stroke-width="1"/>
<text x="1443.6" y="380.21" font-size="8.3" fill="#000" stroke="#000" stroke-width="0.08">108.400</text>
<line x1="1438.5" y1="405.28" x2="1441.5" y2="405.28" stroke="#000" stroke-width="1"/>
<text x="1443.6" y="408.48" font-size="8.3" fill="#000" stroke="#000" stroke-width="0.08">107.960</text>
<line x1="1438.5" y1="433.54" x2="1441.5" y2="433.54" stroke="#000" stroke-width="1"/>
<text x="1443.6" y="436.74" font-size="8.3" fill="#000" stroke="#000" stroke-width="0.08">107.520</text>
<line x1="1438.5" y1="461.81" x2="1441.5" y2="461.81" stroke="#000" stroke-width="1"/>
<text x="1443.6" y="465.01" font-size="8.3" fill="#000" stroke="#000" stroke-width="0.08">107.080</text>
<line x1="1438.5" y1="490.07" x2="1441.5" y2="490.07" stroke="#000" stroke-width="1"/>
<text x="1443.6" y="493.27" font-size="8.3" fill="#000" stroke="#000" stroke-width="0.08">106.640</text>
<line x1="1438.5" y1="518.34" x2="1441.5" y2="518.34" stroke="#000" stroke-width="1"/>
<text x="1443.6" y="521.54" font-size="8.3" fill="#000" stroke="#000" stroke-width="0.08">106.200</text>
<line x1="1438.5" y1="546.60" x2="1441.5" y2="546.60" stroke="#000" stroke-width="1"/>
<text x="1443.6" y="549.80" font-size="8.3" fill="#000" stroke="#000" stroke-width="0.08">105.760</text>
<line x1="1438.5" y1="574.87" x2="1441.5" y2="574.87" stroke="#000" stroke-width="1"/>
<text x="1443.6" y="578.07" font-size="8.3" fill="#000" stroke="#000" stroke-width="0.08">105.320</text>
<line x1="1438.5" y1="603.13" x2="1441.5" y2="603.13" stroke="#000" stroke-width="1"/>
<text x="1443.6" y="606.33" font-size="8.3" fill="#000" stroke="#000" stroke-width="0.08">104.880</text>
<line x1="1438.5" y1="631.40" x2="1441.5" y2="631.40" stroke="#000" stroke-width="1"/>
<text x="1443.6" y="634.60" font-size="8.3" fill="#000" stroke="#000" stroke-width="0.08">104.440</text>
<rect x="1440" y="260.92" width="37.2" height="9.6" fill="#ff0000"/>
<text x="1443.6" y="268.92" font-size="8.3" fill="#fff" stroke="#fff" stroke-width="0.15">110.128</text>
<rect x="1440" y="311.81" width="37.2" height="9.6" fill="#000000"/>
<text x="1443.6" y="319.81" font-size="8.3" fill="#fff" stroke="#fff" stroke-width="0.15">109.337</text>
<rect x="1440" y="411.26" width="37.2" height="9.6" fill="#ff0000"/>
<text x="1443.6" y="419.26" font-size="8.3" fill="#fff" stroke="#fff" stroke-width="0.15">107.791</text>
<rect x="0.5" y="636.5" width="1438" height="116" fill="none" stroke="#000" stroke-width="1"/>
<line x1="1" y1="660.20" x2="1438" y2="660.20" stroke="#a8a8a8" stroke-width="1.1" stroke-dasharray="2.9 2.55"/>
<line x1="1" y1="694.70" x2="1438" y2="694.70" stroke="#a8a8a8" stroke-width="1.1" stroke-dasharray="2.9 2.55"/>
<line x1="1" y1="729.20" x2="1438" y2="729.20" stroke="#a8a8a8" stroke-width="1.1" stroke-dasharray="2.9 2.55"/>
<g clip-path="url(#cr)">
<polyline points="1.3,690.3 8.6,691.7 15.9,687.1 23.2,684.2 30.5,683.2 37.8,679.2 45.1,682.6 52.4,681.4 59.6,686.7 66.9,692.4 74.2,689.1 81.5,685.1 88.8,684.0 96.1,684.0 103.4,682.2 110.7,678.6 118.0,681.0 125.3,687.3 132.6,685.9 139.9,684.7 147.1,680.6 154.4,695.2 161.7,692.4 169.0,690.1 176.3,689.3 183.6,694.8 190.9,702.9 198.2,712.4 205.5,711.4 212.8,714.0 220.1,717.1 227.4,721.1 234.6,720.1 241.9,711.4 249.2,714.0 256.5,714.0 263.8,717.5 271.1,717.5 278.4,717.5 285.7,720.7 293.0,706.5 300.3,705.3 307.6,716.1 314.9,722.8 322.1,724.2 329.4,729.2 336.7,725.2 344.0,726.2 351.3,717.5 358.6,720.7 365.9,721.5 373.2,714.0 380.5,716.7 387.8,719.1 395.1,716.7 402.4,717.5 409.6,724.2 416.9,727.6 424.2,726.2 431.5,723.6 438.8,724.6 446.1,718.7 453.4,719.1 460.7,703.9 468.0,692.8 475.3,701.3 482.6,695.2 489.9,701.9 497.1,704.5 504.4,706.3 511.7,697.8 519.0,701.9 526.3,703.9 533.6,709.0 540.9,709.0 548.2,707.4 555.5,710.0 562.8,706.5 570.1,706.5 577.4,711.4 584.6,713.4 591.9,719.1 599.2,720.7 606.5,719.1 613.8,722.8 621.1,726.6 628.4,718.7 635.7,711.4 643.0,718.1 650.3,728.8 657.6,732.3 664.9,718.7 672.1,717.5 679.4,712.4 686.7,715.5 694.0,712.0 701.3,705.3 708.6,708.0 715.9,703.5 723.2,701.3 730.5,700.5 737.8,701.9 745.1,704.3 752.4,704.3 759.6,700.9 766.9,696.8 774.2,694.8 781.5,696.8 788.8,693.4 796.1,691.3 803.4,691.3 810.7,697.4 818.0,694.8 825.3,693.4 832.6,691.3 839.9,690.7 847.1,694.4 854.4,703.5 861.7,707.0 869.0,709.4 876.3,710.4 883.6,705.5 890.9,702.5 898.2,697.8 905.5,696.8 912.8,697.4 920.1,700.5 927.4,698.8 934.6,701.9 941.9,695.8 949.2,692.2 956.5,701.3 963.8,702.9 971.1,702.3 978.4,700.5 985.7,700.5 993.0,701.9 1000.3,693.8 1007.6,685.1 1014.9,689.1 1022.1,695.8 1029.4,689.1 1036.7,687.3 1044.0,694.2 1051.3,693.4 1058.6,689.7 1065.9,685.3 1073.2,681.6 1080.5,679.0 1087.8,684.7 1095.1,684.2 1102.4,690.7 1109.6,687.7 1116.9,684.7 1124.2,679.0 1131.5,677.2 1138.8,677.2" fill="none" stroke="#a838e8" stroke-width="1.15" stroke-linejoin="round"/>
</g>
<text x="4.5" y="647.2" font-size="8.3" fill="#000" stroke="#000" stroke-width="0.08" letter-spacing="0.12">RSI(14) 64.9543</text>
<line x1="1438.5" y1="637" x2="1441" y2="639" stroke="#000" stroke-width="1"/>
<text x="1441.5" y="645.20" font-size="8.3" fill="#000" stroke="#000" stroke-width="0.08">100</text>
<text x="1441.5" y="663.40" font-size="8.3" fill="#000" stroke="#000" stroke-width="0.08">80</text>
<text x="1441.5" y="697.50" font-size="8.3" fill="#000" stroke="#000" stroke-width="0.08">50</text>
<text x="1441.5" y="732.40" font-size="8.3" fill="#000" stroke="#000" stroke-width="0.08">20</text>
<text x="1441.5" y="749.20" font-size="8.3" fill="#000" stroke="#000" stroke-width="0.08">0</text>
<line x1="1.10" y1="752.5" x2="1.10" y2="755.6" stroke="#000" stroke-width="1"/>
<text x="0.60" y="763.9" font-size="8.3" fill="#000" stroke="#000" stroke-width="0.08">11 Dec 2018</text>
<line x1="59.40" y1="752.5" x2="59.40" y2="755.6" stroke="#000" stroke-width="1"/>
<text x="58.90" y="763.9" font-size="8.3" fill="#000" stroke="#000" stroke-width="0.08">12 Dec 12:00</text>
<line x1="117.73" y1="752.5" x2="117.73" y2="755.6" stroke="#000" stroke-width="1"/>
<text x="117.23" y="763.9" font-size="8.3" fill="#000" stroke="#000" stroke-width="0.08">13 Dec 20:00</text>
<line x1="176.07" y1="752.5" x2="176.07" y2="755.6" stroke="#000" stroke-width="1"/>
<text x="175.57" y="763.9" font-size="8.3" fill="#000" stroke="#000" stroke-width="0.08">17 Dec 04:00</text>
<line x1="234.40" y1="752.5" x2="234.40" y2="755.6" stroke="#000" stroke-width="1"/>
<text x="233.90" y="763.9" font-size="8.3" fill="#000" stroke="#000" stroke-width="0.08">18 Dec 12:00</text>
<line x1="292.73" y1="752.5" x2="292.73" y2="755.6" stroke="#000" stroke-width="1"/>
<text x="292.23" y="763.9" font-size="8.3" fill="#000" stroke="#000" stroke-width="0.08">19 Dec 20:00</text>
<line x1="351.06" y1="752.5" x2="351.06" y2="755.6" stroke="#000" stroke-width="1"/>
<text x="350.56" y="763.9" font-size="8.3" fill="#000" stroke="#000" stroke-width="0.08">21 Dec 04:00</text>
<line x1="409.40" y1="752.5" x2="409.40" y2="755.6" stroke="#000" stroke-width="1"/>
<text x="408.90" y="763.9" font-size="8.3" fill="#000" stroke="#000" stroke-width="0.08">24 Dec 12:00</text>
<line x1="467.73" y1="752.5" x2="467.73" y2="755.6" stroke="#000" stroke-width="1"/>
<text x="467.23" y="763.9" font-size="8.3" fill="#000" stroke="#000" stroke-width="0.08">26 Dec 20:00</text>
<line x1="526.06" y1="752.5" x2="526.06" y2="755.6" stroke="#000" stroke-width="1"/>
<text x="525.56" y="763.9" font-size="8.3" fill="#000" stroke="#000" stroke-width="0.08">28 Dec 04:00</text>
<line x1="584.40" y1="752.5" x2="584.40" y2="755.6" stroke="#000" stroke-width="1"/>
<text x="583.90" y="763.9" font-size="8.3" fill="#000" stroke="#000" stroke-width="0.08">31 Dec 12:00</text>
<line x1="642.73" y1="752.5" x2="642.73" y2="755.6" stroke="#000" stroke-width="1"/>
<text x="642.23" y="763.9" font-size="8.3" fill="#000" stroke="#000" stroke-width="0.08">2 Jan 20:00</text>
<line x1="701.06" y1="752.5" x2="701.06" y2="755.6" stroke="#000" stroke-width="1"/>
<text x="700.56" y="763.9" font-size="8.3" fill="#000" stroke="#000" stroke-width="0.08">4 Jan 04:00</text>
<line x1="759.40" y1="752.5" x2="759.40" y2="755.6" stroke="#000" stroke-width="1"/>
<text x="758.90" y="763.9" font-size="8.3" fill="#000" stroke="#000" stroke-width="0.08">7 Jan 12:00</text>
<line x1="817.73" y1="752.5" x2="817.73" y2="755.6" stroke="#000" stroke-width="1"/>
<text x="817.23" y="763.9" font-size="8.3" fill="#000" stroke="#000" stroke-width="0.08">8 Jan 20:00</text>
<line x1="876.06" y1="752.5" x2="876.06" y2="755.6" stroke="#000" stroke-width="1"/>
<text x="875.56" y="763.9" font-size="8.3" fill="#000" stroke="#000" stroke-width="0.08">10 Jan 04:00</text>
<line x1="934.39" y1="752.5" x2="934.39" y2="755.6" stroke="#000" stroke-width="1"/>
<text x="933.89" y="763.9" font-size="8.3" fill="#000" stroke="#000" stroke-width="0.08">11 Jan 12:00</text>
<line x1="992.73" y1="752.5" x2="992.73" y2="755.6" stroke="#000" stroke-width="1"/>
<text x="992.23" y="763.9" font-size="8.3" fill="#000" stroke="#000" stroke-width="0.08">14 Jan 20:00</text>
<line x1="1051.06" y1="752.5" x2="1051.06" y2="755.6" stroke="#000" stroke-width="1"/>
<text x="1050.56" y="763.9" font-size="8.3" fill="#000" stroke="#000" stroke-width="0.08">16 Jan 04:00</text>
<line x1="1109.39" y1="752.5" x2="1109.39" y2="755.6" stroke="#000" stroke-width="1"/>
<text x="1108.89" y="763.9" font-size="8.3" fill="#000" stroke="#000" stroke-width="0.08">17 Jan 12:00</text>
<rect x="0" y="770" width="1480" height="1.3" fill="#e4e4e4"/>
</svg></body></html>
